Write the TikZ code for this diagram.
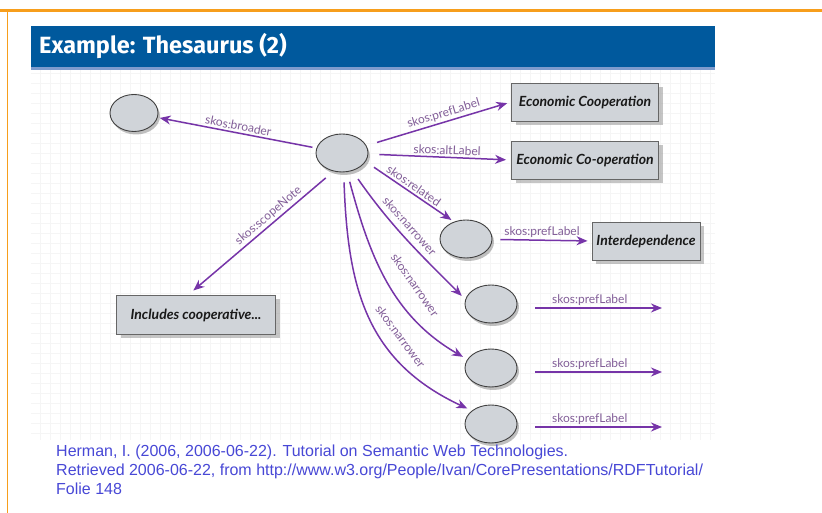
\documentclass[tikz,border=0pt]{standalone}
\usepackage{fontspec}
\setmainfont{Lato}
\newfontfamily\reffont{Liberation Sans}
\newfontfamily\titlefont{Fira Sans}
\usepackage{tikz}
\usetikzlibrary{arrows.meta}
\usetikzlibrary{shapes.geometric}
\usetikzlibrary{shadows}

\definecolor{slideorange}{RGB}{247,158,28}
\definecolor{titleblue}{RGB}{0,89,157}
\definecolor{stripeblue}{RGB}{125,155,205}
\definecolor{skospurple}{RGB}{118,52,168}
\definecolor{skostext}{RGB}{130,94,152}
\definecolor{nodegray}{RGB}{208,212,217}
\definecolor{refblue}{RGB}{72,72,214}

\begin{document}
\begin{tikzpicture}[x=1pt,y=1pt,
        res/.style={ellipse, draw=black!75, line width=0.9pt, fill=nodegray, minimum width=52pt, minimum height=38pt, inner sep=0pt,
            drop shadow={shadow xshift=2pt, shadow yshift=-3pt, opacity=0.5}},
        lit/.style={rectangle, draw=black!60, line width=0.9pt, fill=nodegray, minimum height=38pt, inner sep=0pt,
            font=\bfseries\itshape\fontsize{14}{16}\selectfont, text=black!90,
            drop shadow={shadow xshift=4pt, shadow yshift=-4pt, opacity=0.45}},
        prop/.style={-{Stealth[length=11pt,width=9pt,inset=3.5pt]}, skospurple, line width=1.5pt},
        plabel/.style={font=\fontsize{12}{14}\selectfont, text=skostext, inner sep=2pt}]
            \useasboundingbox (0,0) rectangle (822,513);
            \fill[white] (0,0) rectangle (822,513);

            % slide frame and title bar
            \fill[slideorange] (0,500.5) rectangle (822,503.5);
            \fill[slideorange] (6.5,0) rectangle (8,500.5);
            \draw[black!4, line width=0.4pt, step=10pt] (31,73) grid (715,443);
            \fill[titleblue] (31,446) rectangle (715,487);
            \fill[stripeblue] (31,443) rectangle (715,446);
            \node(title) [anchor=west, text=white, font=\titlefont\bfseries\fontsize{23.5}{27}\selectfont, inner sep=0pt] at (39,467) {Example: Thesaurus (2)};

            % resources
            \node(e1) [res, minimum width=48pt, minimum height=37pt] at (134,400) {};
            \node(c) [res] at (342,360) {};
            \node(r) [res] at (466,274) {};
            \node(n1) [res] at (491,209) {};
            \node(n2) [res] at (491,145) {};
            \node(n3) [res] at (491,89) {};

            % literals
            \node(b1) [lit, minimum width=147pt] at (585,411) {Economic Cooperation};
            \node(b2) [lit, minimum width=147pt] at (585,353) {Economic Co-operation};
            \node(b3) [lit, minimum width=108pt] at (646,272) {Interdependence};
            \node(b4) [lit, minimum width=159pt, minimum height=39pt] at (196,198) {Includes cooperative...};

            \coordinate(p1) at (662,205);
            \coordinate(p2) at (662,141);
            \coordinate(p3) at (662,86);

            \draw[prop, shorten <=4pt, shorten >=2pt] (c) -- node[plabel, above, sloped] {skos:broader} (e1);
            \draw[prop, shorten <=11pt, shorten >=4pt] (c) -- node[plabel, above, sloped, pos=0.55] {skos:prefLabel} (b1.west);
            \draw[prop, shorten <=11pt, shorten >=5pt] (c) -- node[plabel, above, sloped, pos=0.55] {skos:altLabel} (b2.west);
            \draw[prop, shorten <=10pt, shorten >=3pt] (c.-20) -- node[plabel, above, sloped] {skos:related} (r.125);
            \draw[prop, shorten <=8pt, shorten >=4pt] (r) -- node[plabel, above] {skos:prefLabel} (b3.west);
            \draw[prop, shorten <=10pt, shorten >=7pt] (c.-115) -- node[plabel, above, sloped, pos=0.41] {skos:scopeNote} ([xshift=-8pt] b4.north);
            \draw[prop, shorten <=10pt, shorten >=5pt] (c.-60) to [out=-55,in=135] node[plabel, above=6pt, sloped, pos=0.46, inner sep=0pt] {skos:narrower} (n1.170);
            \draw[prop, shorten <=10pt, shorten >=5pt] (c.-75) to [out=-75,in=150] node[plabel, above=16pt, sloped, pos=0.59, inner sep=0pt] {skos:narrower} (n2.160);
            \draw[prop, shorten <=10pt, shorten >=5pt] (c.-85) to [out=-88,in=155,looseness=1.1] node[plabel, above=11pt, sloped, pos=0.635, inner sep=0pt] {skos:narrower} (n3.145);
            \draw[prop, shorten <=18pt] ([yshift=-4pt] n1.east) -- node[plabel, above] {skos:prefLabel} (p1);
            \draw[prop, shorten <=18pt] ([yshift=-4pt] n2.east) -- node[plabel, above] {skos:prefLabel} (p2);
            \draw[prop, shorten <=18pt] ([yshift=-3pt] n3.east) -- node[plabel, above] {skos:prefLabel} (p3);

            % source
            \node(src) [anchor=north west, align=left, text=refblue, font=\reffont\fontsize{16}{19}\selectfont, inner sep=0pt] at (56,68)
                {Herman, I. (2006, 2006-06-22). Tutorial on Semantic Web Technologies.\\
                 Retrieved 2006-06-22, from http://www.w3.org/People/Ivan/CorePresentations/RDFTutorial/\\
                 Folie 148};
        \end{tikzpicture}
\end{document}
